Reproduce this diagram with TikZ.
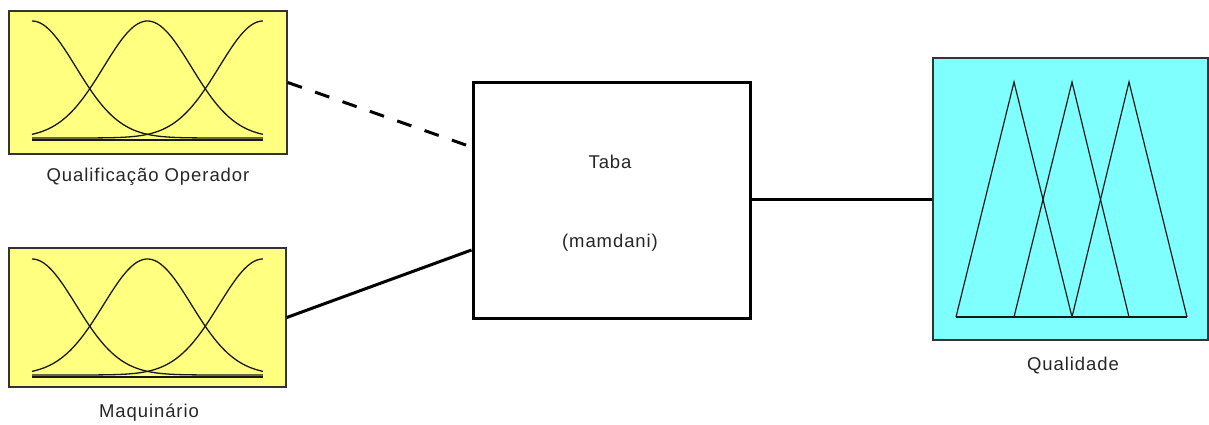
\documentclass[tikz,border=0pt]{standalone}
\usepackage{fontspec}
\setmainfont{Liberation Sans}[LetterSpace=5]
\definecolor{mfyellow}{RGB}{255,255,128}
\definecolor{mfcyan}{RGB}{128,255,255}
\begin{document}
\begin{tikzpicture}[x=1pt,y=-1pt,
  inbox/.style={draw=black!80,line width=1.5pt,fill=mfyellow,inner sep=0pt},
  outbox/.style={draw=black!80,line width=1.5pt,fill=mfcyan,inner sep=0pt},
  sysbox/.style={draw=black,line width=3pt,fill=white,inner sep=0pt},
  lbl/.style={font=\fontsize{18.5}{22}\selectfont,text=black!85,inner sep=0pt},
  mfline/.style={black!90,line width=1.3pt},
  link/.style={black,line width=3pt},
  dashlink/.style={link,dash pattern=on 15pt off 14pt}]
\useasboundingbox (0,0) rectangle (1209,425);

% input variable blocks
\node[inbox,minimum width=278pt,minimum height=143pt] (qo) at (148,82.5) {};
\node[inbox,minimum width=277pt,minimum height=139pt] (mq) at (147.5,317.5) {};
% rule system block
\node[sysbox,minimum width=277pt,minimum height=235pt] (tb) at (611.5,200.5) {};
% output variable block
\node[outbox,minimum width=275pt,minimum height=282pt] (ql) at (1070.5,199) {};

% gaussian membership functions of the inputs
\foreach \yt/\yz/\yb in {21/138/140, 259/375/377}{
  \draw[mfline] (32,\yb) -- (263,\yb);
  \foreach \c in {0,0.5,1}{
    \draw[mfline] plot[domain=0:1,samples=80,smooth]
      ({32+\x*231},{\yz-(\yz-\yt)*exp(-((\x-\c)^2)/(2*0.19^2))});
  }
}

% triangular membership functions of the output
\draw[mfline,line width=1.2pt] (956,317) -- (1187,317);
\draw[mfline,line width=1.2pt] (956,317) -- (1014,82) -- (1072,317);
\draw[mfline,line width=1.2pt] (1014,317) -- (1072,82) -- (1129,317);
\draw[mfline,line width=1.2pt] (1072,317) -- (1129,82) -- (1187,317);

% labels
\node[lbl] (qolbl) at (148,177) {Qualificação Operador};
\node[lbl] (mqlbl) at (149,413) {Maquinário};
\node[lbl] (qllbl) at (1073,366) {Qualidade};
\node[lbl] (tbname) at (610,162) {Taba};
\node[lbl] (tbtype) at (610,243) {(mamdani)};

% connections
\draw[dashlink] (qo.east) -- ([yshift=53.5pt]tb.west);
\draw[link] (mq.east) -- ([yshift=-49.5pt]tb.west);
\draw[link] (tb.east |- ql.west) -- (ql.west);
\end{tikzpicture}
\end{document}
